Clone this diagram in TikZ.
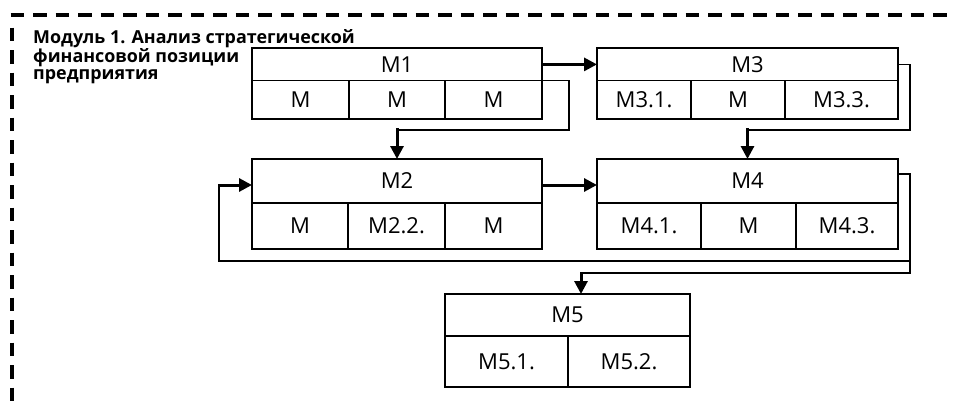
\documentclass[tikz,border=0pt]{standalone}
\usepackage{fontspec}
\setmainfont{Open Sans}
\usetikzlibrary{arrows.meta,calc}
\begin{document}
\begin{tikzpicture}[x=1pt,y=-1pt,
  cell/.style={draw, line width=1.8pt, inner sep=0pt, outer sep=0pt,
    font=\fontsize{22}{22}\selectfont},
  conn/.style={line width=1.6pt, line cap=rect},
  arr/.style={line width=3pt, line cap=rect, -{Triangle[length=13pt,width=13pt]}},
  frame/.style={line width=4pt, dash pattern=on 13.5pt off 9pt},
]
\useasboundingbox (0,0) rectangle (955,401);

% dashed frame
\draw[frame] (10.7,15.5) -- (970,15.5);
\draw[frame] (12,27.7) -- (12,420);

% title
\node[anchor=north west, align=left, inner sep=0pt,
  font=\bfseries\fontsize{17.9}{16.8}\selectfont] (title) at (33,29.5)
  {Модуль 1. Анализ стратегической\\финансовой позиции\\предприятия};

% M1
\node[cell, minimum width=290pt, minimum height=32.2pt] (m1) at (397,64.4) {М1};
\node[cell, minimum width=97pt, minimum height=38.8pt] (m11) at (300.5,99.9) {М};
\node[cell, minimum width=96pt, minimum height=38.8pt] (m12) at (397,99.9) {М};
\node[cell, minimum width=97pt, minimum height=38.8pt] (m13) at (493.5,99.9) {М};

% M3
\node[cell, minimum width=301pt, minimum height=32.2pt] (m3) at (747.5,64.4) {М3};
\node[cell, minimum width=94pt, minimum height=38.8pt] (m31) at (644,99.9) {М3.1.};
\node[cell, minimum width=94pt, minimum height=38.8pt] (m32) at (738,99.9) {М};
\node[cell, minimum width=113pt, minimum height=38.8pt] (m33) at (841.5,99.9) {М3.3.};

% M2
\node[cell, minimum width=290pt, minimum height=44pt] (m2) at (397,181) {М2};
\node[cell, minimum width=96pt, minimum height=46pt] (m21) at (300,226) {М};
\node[cell, minimum width=97pt, minimum height=46pt] (m22) at (396.5,226) {М2.2.};
\node[cell, minimum width=97pt, minimum height=46pt] (m23) at (493.5,226) {М};

% M4
\node[cell, minimum width=301pt, minimum height=44pt] (m4) at (747.5,181) {М4};
\node[cell, minimum width=104pt, minimum height=46pt] (m41) at (649,226) {М4.1.};
\node[cell, minimum width=95pt, minimum height=46pt] (m42) at (748.5,226) {М};
\node[cell, minimum width=102pt, minimum height=46pt] (m43) at (847,226) {М4.3.};

% M5
\node[cell, minimum width=245pt, minimum height=42pt] (m5) at (567.5,315) {М5};
\node[cell, minimum width=123pt, minimum height=51pt] (m51) at (506.5,361.5) {М5.1.};
\node[cell, minimum width=122pt, minimum height=51pt] (m52) at (629,361.5) {М5.2.};

% turning points
\coordinate (k1) at (569,130);
\coordinate (k2) at (910,130);
\coordinate (k3) at (910,273);
\coordinate (k4) at (219,261);
\coordinate (m2in) at ([yshift=-4pt]m2.west);
\coordinate (m2out) at ([yshift=-4pt]m2.east);
\coordinate (m4in) at ([yshift=-4pt]m4.west);
\coordinate (m4out) at ([yshift=7pt]m4.east);
\coordinate (m5in) at ([xshift=13.5pt]m5.north);

% connectors
\draw[arr] (m1.east) -- (m3.west);
\draw[arr] (m2out) -- (m4in);

\draw[conn] (m1.south east) -| (k1) -- (m2.north |- k1);
\draw[arr] (m2.north |- k1) -- (m2.north);

\draw[conn] (m3.east) -| (k2) -- (m4.north |- k2);
\draw[arr] (m4.north |- k2) -- (m4.north);

\draw[conn] (m4out) -| (k3) -- (m5in |- k3);
\draw[arr] (m5in |- k3) -- (m5in);

\draw[conn] (k3 |- k4) -- (k4) -- (k4 |- m2in);
\draw[arr] (k4 |- m2in) -- (m2in);
\end{tikzpicture}
\end{document}
